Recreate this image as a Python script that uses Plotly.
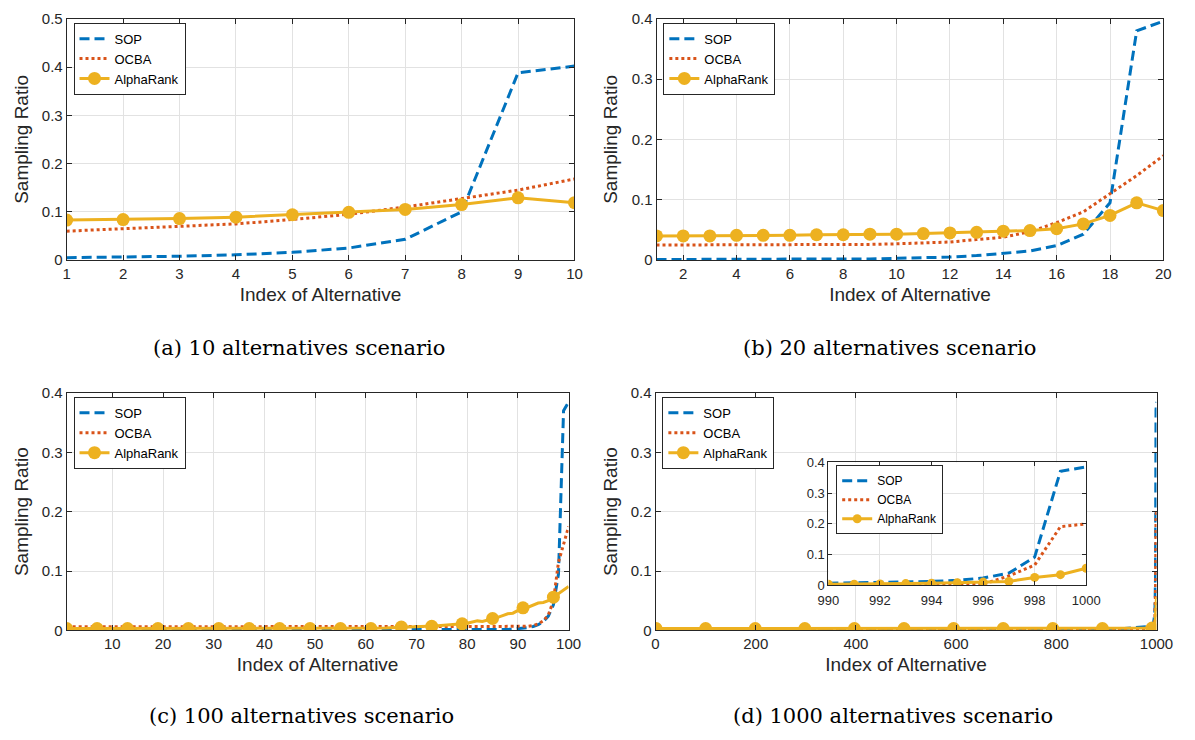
import plotly.graph_objects as go

# ---------------- data ----------------
# (a) 10 alternatives
a_x = [1, 2, 3, 4, 5, 6, 7, 8, 9, 10]
a_sop = [0.005, 0.006, 0.008, 0.011, 0.016, 0.025, 0.043, 0.100, 0.388, 0.402]
a_ocba = [0.060, 0.065, 0.070, 0.075, 0.084, 0.095, 0.110, 0.128, 0.145, 0.168]
a_alpha = [0.083, 0.084, 0.086, 0.089, 0.094, 0.099, 0.105, 0.115, 0.129, 0.119]

# (b) 20 alternatives
b_x = list(range(1, 21))
b_sop = [0.001, 0.001, 0.001, 0.001, 0.001, 0.001, 0.001, 0.002, 0.002, 0.003,
         0.004, 0.005, 0.0075, 0.011, 0.015, 0.024, 0.043, 0.095, 0.380, 0.396]
b_ocba = [0.025, 0.025, 0.025, 0.025, 0.025, 0.025, 0.025, 0.026, 0.026, 0.027,
          0.028, 0.030, 0.034, 0.038, 0.047, 0.062, 0.080, 0.110, 0.140, 0.173]
b_alpha = [0.040, 0.040, 0.040, 0.041, 0.041, 0.041, 0.042, 0.042, 0.043, 0.043,
           0.044, 0.045, 0.046, 0.048, 0.049, 0.052, 0.060, 0.074, 0.095, 0.082]

# (c) 100 alternatives
c_x = list(range(1, 101))
c_sop = [0.0005, 0.0005, 0.0005, 0.0005, 0.0005, 0.0005, 0.0005, 0.0005, 0.0005, 0.0005,
         0.0005, 0.0005, 0.0005, 0.0005, 0.0005, 0.0005, 0.0005, 0.0005, 0.0005, 0.0005,
         0.0005, 0.0005, 0.0005, 0.0005, 0.0005, 0.0005, 0.0005, 0.0005, 0.0005, 0.0005,
         0.0005, 0.0005, 0.0005, 0.0005, 0.0005, 0.0005, 0.0005, 0.0005, 0.0005, 0.0005,
         0.0005, 0.0005, 0.0005, 0.0005, 0.0005, 0.0005, 0.0005, 0.0005, 0.0005, 0.0005,
         0.0005, 0.0005, 0.0005, 0.0005, 0.0005, 0.0005, 0.0005, 0.0005, 0.0005, 0.0005,
         0.0005, 0.0005, 0.0005, 0.0005, 0.0005, 0.0005, 0.0005, 0.0005, 0.0005, 0.0005,
         0.0007, 0.0007, 0.0007, 0.0007, 0.0007, 0.0007, 0.0007, 0.0007, 0.0007, 0.0007,
         0.0010, 0.0010, 0.0010, 0.0010, 0.0010, 0.0012, 0.0014, 0.0017, 0.0020, 0.0025,
         0.0033, 0.0045, 0.0065, 0.0095, 0.0150, 0.0240, 0.0430, 0.0950, 0.3700, 0.3850]
c_ocba = [0.006, 0.006, 0.006, 0.006, 0.006, 0.006, 0.006, 0.006, 0.006, 0.006,
          0.006, 0.006, 0.006, 0.006, 0.006, 0.006, 0.006, 0.006, 0.006, 0.006,
          0.006, 0.006, 0.006, 0.006, 0.006, 0.006, 0.006, 0.006, 0.006, 0.006,
          0.006, 0.006, 0.006, 0.006, 0.006, 0.006, 0.006, 0.006, 0.006, 0.006,
          0.006, 0.006, 0.006, 0.006, 0.006, 0.006, 0.006, 0.006, 0.006, 0.006,
          0.006, 0.006, 0.006, 0.006, 0.006, 0.006, 0.006, 0.006, 0.006, 0.006,
          0.006, 0.006, 0.006, 0.006, 0.006, 0.006, 0.006, 0.006, 0.006, 0.006,
          0.006, 0.006, 0.006, 0.006, 0.006, 0.006, 0.006, 0.006, 0.006, 0.006,
          0.006, 0.006, 0.006, 0.006, 0.006, 0.006, 0.006, 0.006, 0.006, 0.006,
          0.0062, 0.0068, 0.008, 0.011, 0.016, 0.026, 0.050, 0.115, 0.145, 0.175]
c_alpha = [0.003, 0.003, 0.003, 0.003, 0.003, 0.003, 0.003, 0.003, 0.003, 0.003,
           0.003, 0.003, 0.003, 0.003, 0.003, 0.003, 0.003, 0.003, 0.003, 0.003,
           0.003, 0.003, 0.003, 0.003, 0.003, 0.003, 0.003, 0.003, 0.003, 0.003,
           0.003, 0.003, 0.003, 0.003, 0.003, 0.003, 0.003, 0.003, 0.003, 0.003,
           0.003, 0.003, 0.003, 0.003, 0.003, 0.003, 0.003, 0.003, 0.003, 0.003,
           0.003, 0.003, 0.003, 0.003, 0.003, 0.003, 0.003, 0.003, 0.003, 0.003,
           0.0032, 0.0035, 0.0038, 0.0040, 0.0045, 0.0050, 0.0055, 0.0055, 0.0060, 0.0062,
           0.0065, 0.0068, 0.0070, 0.0075, 0.0080, 0.0085, 0.0095, 0.0100, 0.0110, 0.0120,
           0.0140, 0.0160, 0.0150, 0.0170, 0.0200, 0.0220, 0.0250, 0.0280, 0.0290, 0.0330,
           0.0380, 0.0390, 0.0420, 0.0460, 0.0470, 0.0500, 0.0560, 0.0620, 0.0680, 0.0740]

# (d) 1000 alternatives (sampled indices; flat region then last eleven)
d_x = [1, 100, 199, 298, 397, 496, 595, 694, 793, 892,
       990, 991, 992, 993, 994, 995, 996, 997, 998, 999, 1000]
d_sop = [0.0003, 0.0003, 0.0003, 0.0003, 0.0003, 0.0003, 0.0003, 0.0003, 0.0003, 0.0003,
         0.007, 0.008, 0.009, 0.011, 0.013, 0.017, 0.024, 0.040, 0.092, 0.371, 0.385]
d_ocba = [0.0015, 0.0015, 0.0015, 0.0015, 0.0015, 0.0015, 0.0015, 0.0015, 0.0015, 0.0015,
          0.002, 0.002, 0.002, 0.002, 0.003, 0.003, 0.004, 0.031, 0.066, 0.191, 0.200]
d_alpha = [0.003, 0.003, 0.003, 0.003, 0.003, 0.003, 0.003, 0.003, 0.003, 0.003,
           0.004, 0.004, 0.005, 0.006, 0.007, 0.009, 0.011, 0.013, 0.026, 0.035, 0.056]
d_marker_x = [1, 100, 199, 298, 397, 496, 595, 694, 793, 892, 991]

series_names = ["SOP", "OCBA", "AlphaRank"]
captions = ["(a) 10 alternatives scenario", "(b) 20 alternatives scenario",
            "(c) 100 alternatives scenario", "(d) 1000 alternatives scenario"]

# ---------------- style ----------------
W, H = 1195, 740
C_SOP, C_OCBA, C_ALPHA = "#0072BD", "#D95319", "#EDB120"
AX = "#262626"
GRID = "#e2e2e2"
SANS = "Liberation Sans, Arial, Helvetica, sans-serif"
SERIF = "DejaVu Serif, Liberation Serif, serif"
SOP_DASH = "10px,5px"


def px_dom_x(x0, x1):
    return [x0 / W, x1 / W]


def px_dom_y(y_top, y_bot):
    return [1 - y_bot / H, 1 - y_top / H]


fig = go.Figure()

panels = [
    ("", a_x, a_sop, a_ocba, a_alpha, "legend", None),
    ("2", b_x, b_sop, b_ocba, b_alpha, "legend2", None),
    ("3", c_x, c_sop, c_ocba, c_alpha, "legend3", 6),
    ("4", d_x, d_sop, d_ocba, d_alpha, "legend4", "d"),
    ("5", d_x[10:], d_sop[10:], d_ocba[10:], d_alpha[10:], "legend5", None),
]

for ax_id, xs, sop, ocba, alpha, leg, mk in panels:
    xa, ya = "x" + ax_id, "y" + ax_id
    inset = ax_id == "5"
    lw = 3
    msize = 13 if not inset else 9
    fig.add_trace(go.Scatter(x=xs, y=sop, mode="lines", xaxis=xa, yaxis=ya,
                             line=dict(color=C_SOP, width=lw, dash=SOP_DASH),
                             showlegend=False, hoverinfo="skip"))
    fig.add_trace(go.Scatter(x=xs, y=ocba, mode="lines", xaxis=xa, yaxis=ya,
                             line=dict(color=C_OCBA, width=lw, dash="dot"),
                             showlegend=False, hoverinfo="skip"))
    if mk is None:
        fig.add_trace(go.Scatter(x=xs, y=alpha, mode="lines+markers", xaxis=xa, yaxis=ya,
                                 line=dict(color=C_ALPHA, width=3),
                                 marker=dict(color=C_ALPHA, size=msize),
                                 showlegend=False, hoverinfo="skip"))
    else:
        fig.add_trace(go.Scatter(x=xs, y=alpha, mode="lines", xaxis=xa, yaxis=ya,
                                 line=dict(color=C_ALPHA, width=3),
                                 showlegend=False, hoverinfo="skip"))
        if mk == "d":
            mx = d_marker_x
            my = [alpha[xs.index(v)] for v in mx]
        else:
            mx = xs[::mk]
            my = alpha[::mk]
        fig.add_trace(go.Scatter(x=mx, y=my, mode="markers", xaxis=xa, yaxis=ya,
                                 marker=dict(color=C_ALPHA, size=msize),
                                 showlegend=False, hoverinfo="skip"))
    # legend entries
    fig.add_trace(go.Scatter(x=[None], y=[None], mode="lines", name=series_names[0], legend=leg,
                             xaxis=xa, yaxis=ya,
                             line=dict(color=C_SOP, width=3, dash=SOP_DASH)))
    fig.add_trace(go.Scatter(x=[None], y=[None], mode="lines", name=series_names[1], legend=leg,
                             xaxis=xa, yaxis=ya,
                             line=dict(color=C_OCBA, width=3, dash="dot")))
    fig.add_trace(go.Scatter(x=[None], y=[None], mode="lines+markers", name=series_names[2],
                             legend=leg, xaxis=xa, yaxis=ya,
                             line=dict(color=C_ALPHA, width=3),
                             marker=dict(color=C_ALPHA, size=msize)))

common = dict(showline=True, linecolor=AX, linewidth=1, mirror="allticks",
              ticks="inside", ticklen=5, tickcolor=AX, tickwidth=1,
              showgrid=True, gridcolor=GRID, gridwidth=1, zeroline=False,
              tickfont=dict(family=SANS, size=15, color=AX), fixedrange=True)

title_font = dict(family=SANS, size=19, color=AX)

layout_axes = {}
doms = {
    "": (57, 577, 10, 257),
    "2": (661, 1180, 10, 257),
    "3": (57, 571, 393, 636),
    "4": (660, 1173, 393, 636),
    "5": (837, 1101, 464, 590),
}
xcfg = {
    "": dict(range=[1, 10], tickvals=a_x),
    "2": dict(range=[1, 20], tickvals=[2, 4, 6, 8, 10, 12, 14, 16, 18, 20]),
    "3": dict(range=[1, 100], tickvals=[10, 20, 30, 40, 50, 60, 70, 80, 90, 100]),
    "4": dict(range=[0, 1000], tickvals=[0, 200, 400, 600, 800, 1000]),
    "5": dict(range=[990, 1000], tickvals=[990, 992, 994, 996, 998, 1000]),
}
ycfg = {
    "": dict(range=[0, 0.5], tickvals=[0, 0.1, 0.2, 0.3, 0.4, 0.5]),
    "2": dict(range=[0, 0.4], tickvals=[0, 0.1, 0.2, 0.3, 0.4]),
    "3": dict(range=[0, 0.4], tickvals=[0, 0.1, 0.2, 0.3, 0.4]),
    "4": dict(range=[0, 0.4], tickvals=[0, 0.1, 0.2, 0.3, 0.4]),
    "5": dict(range=[0, 0.4], tickvals=[0, 0.1, 0.2, 0.3, 0.4]),
}
for k, (x0, x1, yt, yb) in doms.items():
    xd = dict(common, domain=px_dom_x(x0, x1), anchor="y" + k, **xcfg[k])
    yd = dict(common, domain=px_dom_y(yt, yb), anchor="x" + k, **ycfg[k])
    if k != "5":
        xd["title"] = dict(text="Index of Alternative", font=title_font, standoff=6)
        yd["title"] = dict(text="Sampling Ratio", font=title_font, standoff=8)
    else:
        xd["tickfont"] = dict(family=SANS, size=13, color=AX)
        yd["tickfont"] = dict(family=SANS, size=13, color=AX)
        xd["ticklen"] = 4
        yd["ticklen"] = 4
        xd["ticklabelstandoff"] = 3
    layout_axes["xaxis" + k] = xd
    layout_axes["yaxis" + k] = yd

leg_common = dict(bgcolor="white", bordercolor=AX, borderwidth=1,
                  xanchor="left", yanchor="top", tracegroupgap=0,
                  font=dict(family=SANS, size=13, color="#000000"),
                  itemclick=False, itemdoubleclick=False)
legends = {
    "legend": (64, 14),
    "legend2": (668, 14),
    "legend3": (64, 397),
    "legend4": (667, 397),
    "legend5": (845, 467),
}
for name, (lx, ly) in legends.items():
    d = dict(leg_common, x=lx / W, y=1 - ly / H)
    if name == "legend5":
        d["font"] = dict(family=SANS, size=12, color="#000000")
    layout_axes[name] = d

cap_pos = [(295, 347), (900, 347), (297, 724), (903, 724)]
annotations = []
for text, (cx, cy) in zip(captions, cap_pos):
    annotations.append(dict(text=text, x=cx / W, y=1 - cy / H, xref="paper", yref="paper",
                            xanchor="center", yanchor="middle", showarrow=False,
                            font=dict(family=SERIF, size=21, color="#000000")))

fig.update_layout(width=W, height=H, margin=dict(l=0, r=0, t=0, b=0),
                  paper_bgcolor="white", plot_bgcolor="white",
                  annotations=annotations, **layout_axes)

fig.write_html("out.html", config={"displayModeBar": False})
